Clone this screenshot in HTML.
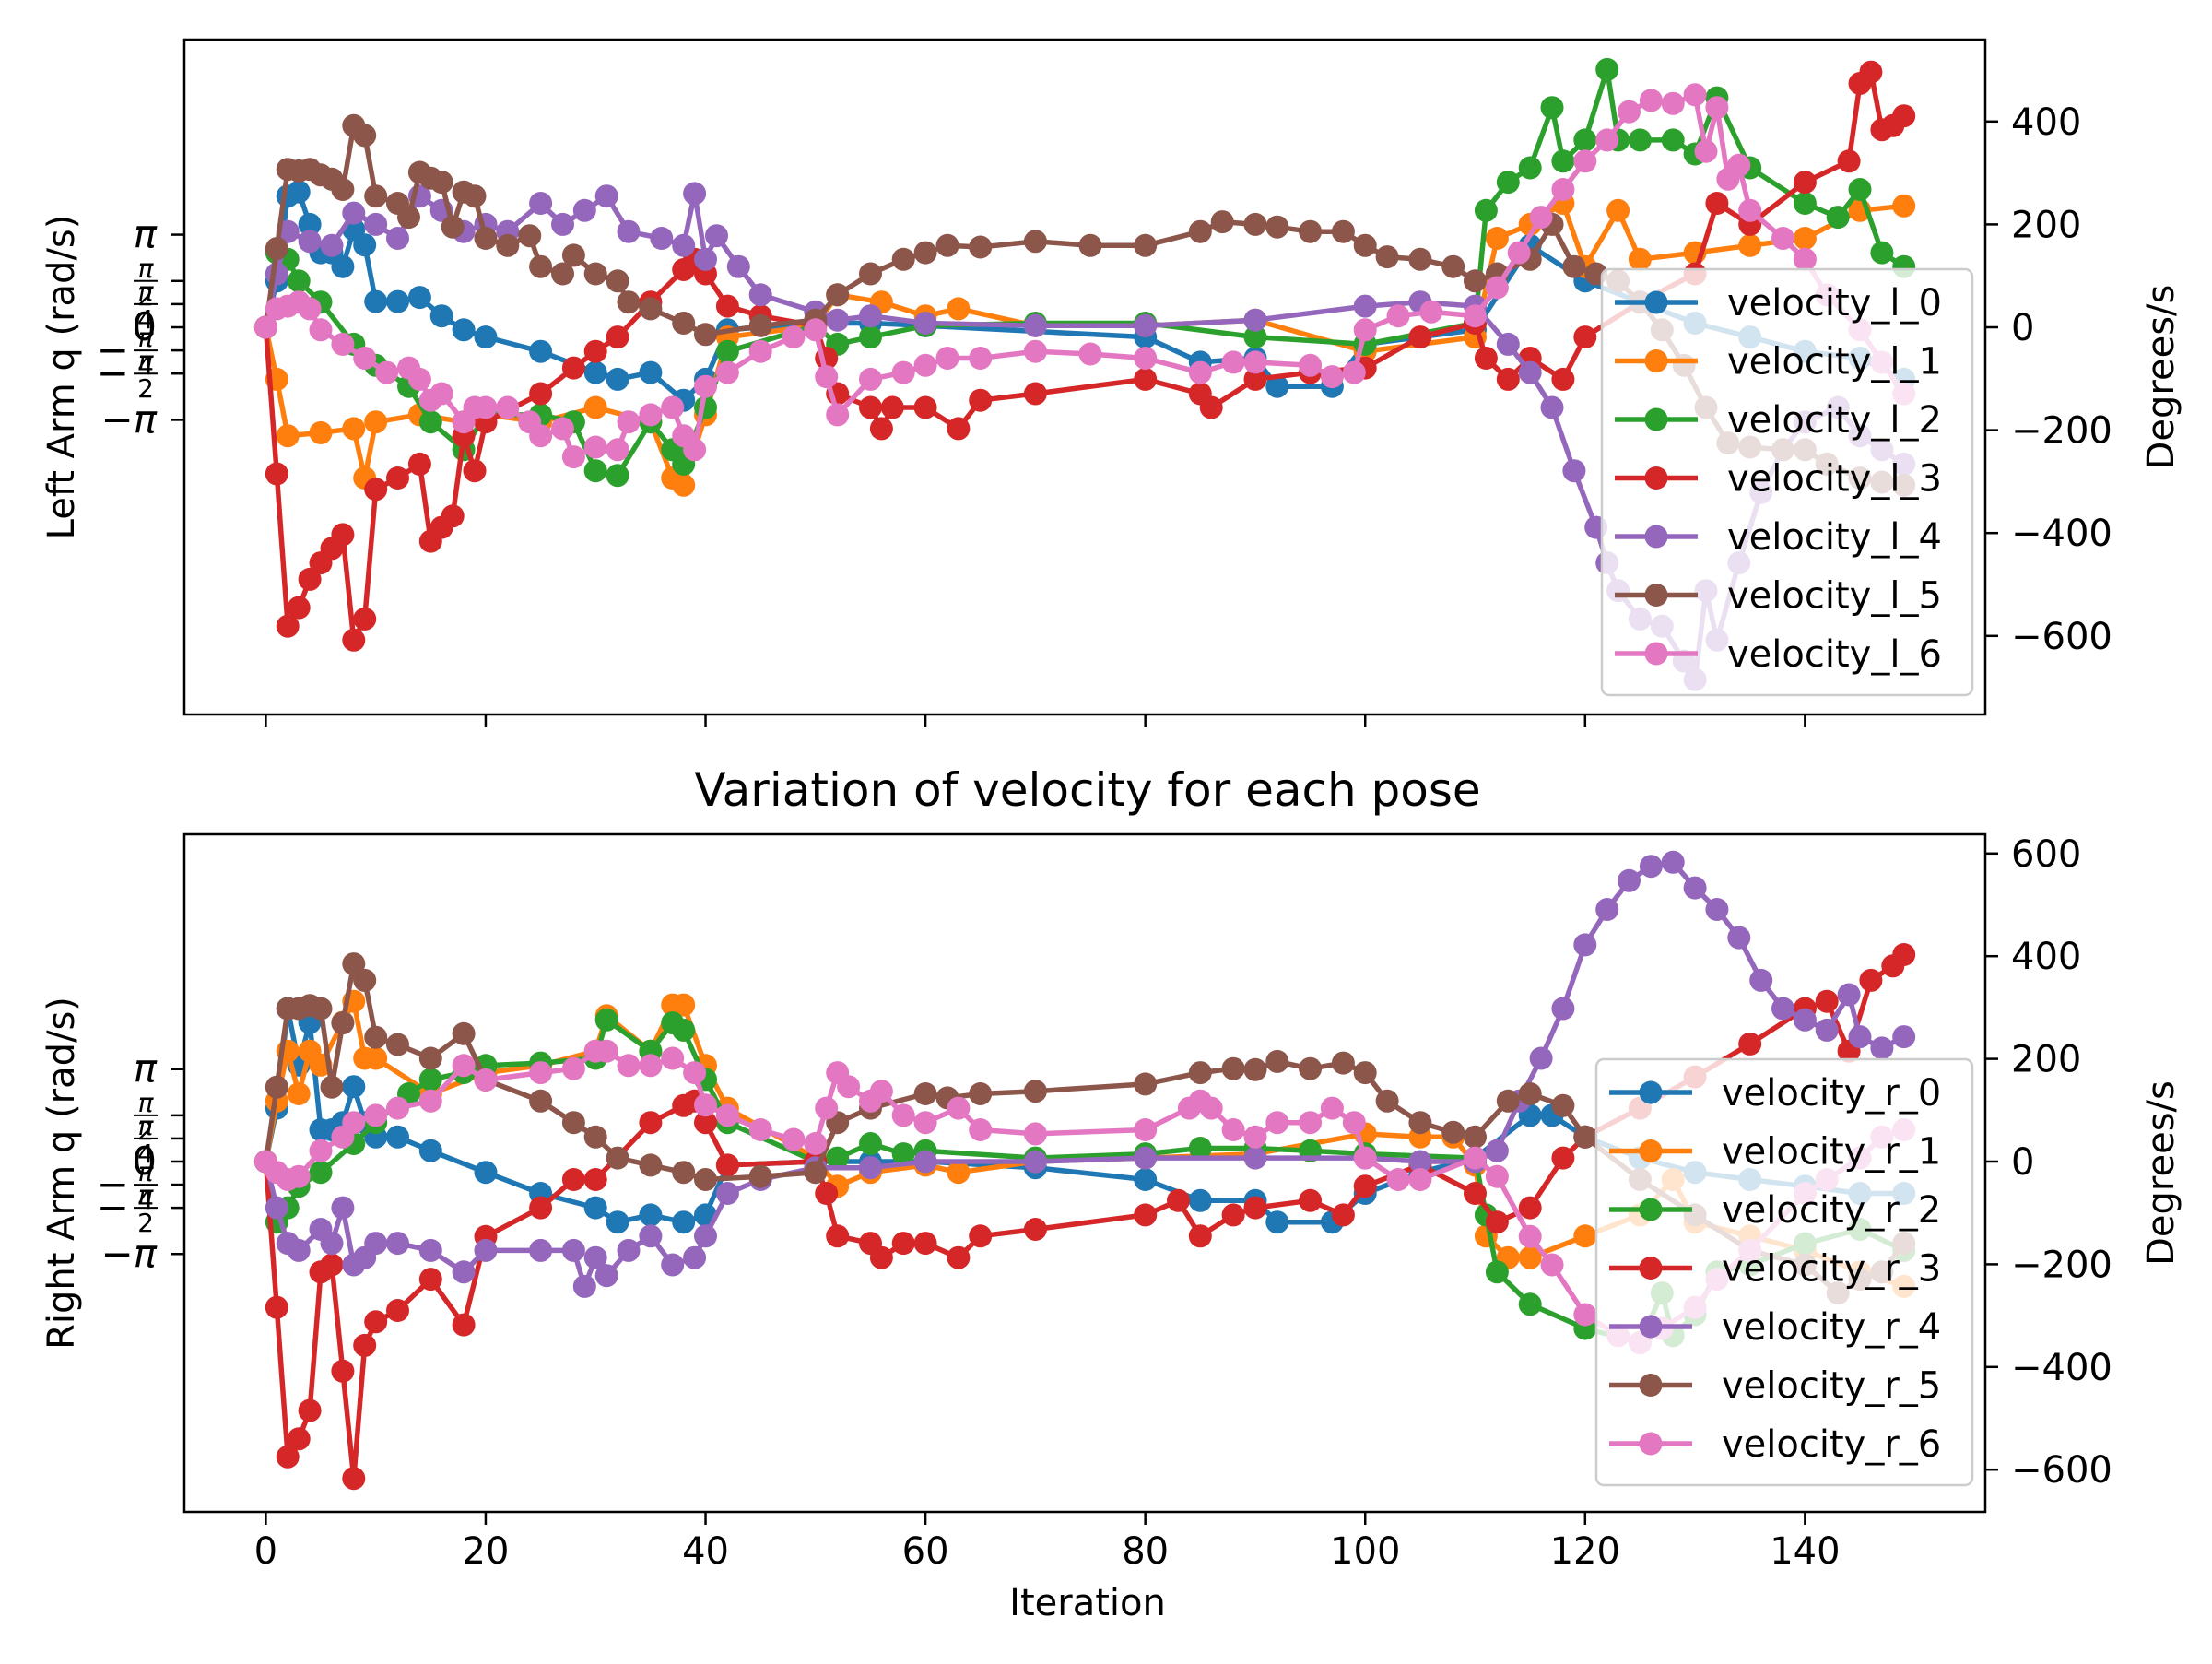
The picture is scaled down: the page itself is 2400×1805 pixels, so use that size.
<!DOCTYPE html>
<html><head><meta charset="utf-8">
<style>
html,body{margin:0;padding:0;background:#fff;}
svg text{font-family:"DejaVu Sans","Liberation Sans",sans-serif;fill:#000;}
</style></head>
<body>
<svg id="fig" width="2400" height="1800" viewBox="0 0 2400 1800" xmlns="http://www.w3.org/2000/svg">
<rect width="2400" height="1800" fill="#fff"/>
</svg>
<script>
// ---------- data (degrees/s), [iteration, value] ----------
const velocity_l_0=[[0,0],[1,90],[2,255],[3,263],[4,200],[5,145],[6,145],[7,118],[8,190],[9,160],[10,50],[12,50],[14,58],[16,22],[18,-5],[20,-19],[25,-47],[30,-88],[32,-101],[35,-88],[38,-142],[40,-101],[42,-5],[50,8],[55,8],[60,3],[80,-19],[85,-68],[90,-60],[92,-115],[97,-115],[100,-33],[110,-5],[115,159],[120,90],[125,49],[130,8],[135,-19],[140,-47],[145,-60],[149,-101]];
const velocity_l_1=[[0,0],[1,-101],[2,-211],[5,-205],[8,-197],[9,-293],[10,-184],[14,-170],[18,-184],[20,-170],[25,-184],[30,-156],[35,-184],[37,-293],[38,-307],[40,-170],[42,-19],[50,3],[52,63],[56,49],[60,22],[63,36],[70,3],[80,3],[90,14],[100,-47],[110,-19],[112,173],[115,200],[118,241],[120,118],[123,227],[125,132],[130,145],[135,159],[140,173],[145,227],[149,236]];
const velocity_l_2=[[0,0],[1,145],[2,132],[3,90],[5,49],[8,-33],[10,-74],[13,-115],[15,-184],[18,-238],[20,-170],[25,-170],[28,-184],[30,-279],[32,-288],[35,-184],[37,-238],[38,-266],[40,-156],[42,-47],[50,3],[52,-33],[55,-19],[60,3],[70,8],[80,8],[90,-19],[100,-33],[110,8],[111,227],[113,282],[115,310],[117,427],[118,323],[120,364],[122,501],[123,364],[125,364],[128,364],[130,337],[132,446],[135,310],[140,241],[143,214],[145,268],[147,145],[149,118]];
const velocity_l_3=[[0,0],[1,-285],[2,-581],[3,-545],[4,-490],[5,-458],[6,-430],[7,-403],[8,-608],[9,-567],[10,-315],[12,-293],[14,-266],[15,-416],[16,-389],[17,-367],[18,-211],[19,-279],[20,-184],[25,-129],[28,-79],[30,-47],[32,-19],[35,49],[38,112],[39,132],[40,104],[42,41],[45,22],[50,3],[51,-60],[52,-129],[55,-156],[56,-197],[57,-156],[60,-156],[63,-197],[65,-142],[70,-129],[80,-101],[85,-129],[86,-156],[90,-101],[95,-88],[100,-79],[105,-19],[110,8],[111,-60],[113,-101],[115,-60],[118,-101],[120,-19],[125,49],[130,104],[132,241],[135,200],[140,282],[144,323],[145,474],[146,496],[147,384],[148,392],[149,411]];
const velocity_l_4=[[0,0],[1,104],[2,186],[4,167],[6,159],[8,222],[10,200],[12,173],[14,255],[16,227],[18,186],[20,200],[22,186],[25,241],[27,200],[29,227],[31,255],[33,186],[36,173],[38,159],[39,260],[40,132],[41,178],[43,118],[45,63],[50,30],[52,14],[55,22],[60,8],[70,3],[80,3],[90,14],[100,41],[105,49],[110,41],[113,-33],[115,-88],[117,-156],[119,-279],[121,-389],[122,-458],[123,-512],[125,-567],[127,-581],[129,-649],[130,-685],[131,-512],[132,-608],[134,-458],[136,-321],[138,-238],[140,-184],[143,-156],[145,-211],[147,-238],[149,-266]];
const velocity_l_5=[[0,0],[1,153],[2,307],[3,304],[4,307],[5,296],[6,288],[7,268],[8,392],[9,373],[10,255],[12,241],[13,214],[14,301],[15,290],[16,282],[17,195],[18,263],[19,255],[20,173],[22,159],[24,178],[25,118],[27,104],[28,140],[30,104],[32,90],[33,49],[35,36],[38,8],[40,-14],[45,3],[50,14],[52,63],[55,104],[58,132],[60,145],[62,159],[65,156],[70,167],[75,159],[80,159],[85,186],[87,205],[90,200],[92,195],[95,186],[98,186],[100,159],[102,137],[105,132],[108,118],[110,90],[112,104],[115,132],[117,200],[119,118],[121,104],[123,90],[125,49],[127,-5],[129,-74],[131,-156],[133,-225],[135,-233],[138,-238],[140,-238],[142,-266],[145,-293],[147,-301],[149,-307]];
const velocity_l_6=[[0,0],[1,36],[2,41],[3,49],[4,36],[5,-5],[7,-33],[9,-60],[11,-88],[13,-79],[14,-101],[15,-142],[16,-129],[18,-184],[19,-156],[20,-156],[22,-156],[24,-184],[25,-211],[27,-197],[28,-252],[30,-233],[32,-238],[33,-184],[35,-170],[37,-156],[38,-211],[39,-238],[40,-115],[42,-88],[45,-47],[48,-19],[50,-5],[51,-96],[52,-170],[55,-101],[58,-88],[60,-74],[62,-60],[65,-60],[70,-47],[75,-52],[80,-60],[85,-88],[88,-68],[90,-68],[95,-74],[97,-96],[99,-88],[100,-5],[103,22],[106,30],[110,22],[112,77],[114,145],[116,214],[118,268],[120,323],[122,364],[124,419],[126,441],[128,435],[130,452],[131,342],[132,427],[133,288],[134,315],[135,227],[138,173],[140,132],[142,63],[145,-5],[147,-68],[149,-129]];

const velocity_r_0=[[0,0],[1,104],[2,298],[3,188],[4,271],[5,62],[6,62],[7,76],[8,146],[9,76],[10,48],[12,48],[15,21],[20,-21],[25,-62],[30,-90],[32,-118],[35,-104],[38,-118],[40,-104],[42,-7],[50,0],[55,0],[60,0],[70,-12],[80,-35],[85,-76],[90,-76],[92,-118],[97,-118],[100,-62],[105,-21],[110,7],[115,90],[117,90],[120,48],[125,7],[130,-21],[135,-35],[140,-48],[145,-62],[149,-62]];
const velocity_r_1=[[0,0],[1,118],[2,215],[3,132],[4,215],[5,188],[7,271],[8,312],[9,201],[10,201],[15,132],[20,173],[25,187],[30,215],[31,284],[35,215],[37,305],[38,305],[40,187],[42,104],[50,7],[52,-48],[55,-21],[60,-7],[63,-21],[70,0],[80,7],[90,15],[100,54],[105,48],[108,48],[110,-7],[111,-145],[113,-187],[115,-187],[120,-145],[125,-104],[128,-35],[130,-118],[135,-145],[140,-173],[145,-215],[149,-243]];
const velocity_r_2=[[0,0],[1,-118],[2,-90],[3,-48],[5,-21],[8,35],[10,76],[13,132],[15,160],[18,173],[20,187],[25,192],[30,201],[31,276],[35,215],[37,270],[38,256],[40,160],[42,76],[50,0],[52,7],[55,35],[58,15],[60,21],[70,7],[80,15],[85,26],[90,26],[95,21],[100,15],[110,7],[111,-104],[112,-215],[115,-278],[120,-325],[125,-353],[127,-256],[128,-339],[130,-298],[132,-215],[135,-201],[140,-160],[145,-132],[149,-173]];
const velocity_r_3=[[0,0],[1,-284],[2,-575],[3,-540],[4,-485],[5,-215],[6,-201],[7,-408],[8,-617],[9,-358],[10,-312],[12,-290],[15,-229],[18,-318],[20,-146],[25,-90],[28,-35],[30,-35],[35,76],[38,109],[39,118],[40,76],[42,-7],[50,0],[51,-62],[52,-145],[55,-159],[56,-187],[58,-159],[60,-159],[63,-187],[65,-145],[70,-132],[80,-104],[83,-76],[85,-145],[88,-104],[90,-90],[95,-76],[98,-104],[100,-48],[105,-7],[110,-62],[112,-118],[115,-90],[118,7],[120,48],[125,104],[130,165],[135,229],[140,298],[142,312],[144,215],[146,353],[148,381],[149,403]];
const velocity_r_4=[[0,0],[1,-90],[2,-159],[3,-173],[5,-132],[6,-159],[7,-90],[8,-201],[9,-187],[10,-159],[12,-159],[15,-173],[18,-215],[20,-173],[25,-173],[28,-173],[29,-243],[30,-187],[31,-222],[33,-173],[35,-145],[37,-201],[39,-187],[40,-145],[42,-62],[45,-35],[50,-12],[55,-12],[60,0],[70,0],[80,7],[90,7],[100,7],[105,0],[110,0],[112,21],[114,118],[116,201],[118,298],[120,422],[122,491],[124,547],[126,575],[128,583],[130,533],[132,491],[134,436],[136,353],[138,298],[140,276],[142,256],[144,325],[145,243],[147,221],[149,243]];
const velocity_r_5=[[0,0],[1,145],[2,298],[3,298],[4,304],[5,298],[6,145],[7,270],[8,385],[9,353],[10,242],[12,228],[15,201],[18,249],[20,159],[25,118],[28,76],[30,48],[32,7],[35,-7],[38,-21],[40,-35],[45,-29],[50,-21],[52,76],[55,104],[60,132],[62,124],[65,132],[70,137],[80,151],[85,173],[88,181],[90,179],[92,195],[95,181],[98,192],[100,173],[102,118],[105,76],[108,57],[110,48],[113,118],[115,132],[118,109],[120,48],[125,-35],[130,-104],[135,-173],[140,-201],[143,-256],[145,-229],[147,-215],[149,-159]];
const velocity_r_6=[[0,0],[1,-21],[2,-35],[3,-29],[5,21],[7,48],[8,76],[10,90],[12,104],[15,118],[18,187],[20,159],[25,173],[28,181],[30,215],[31,215],[33,187],[35,187],[37,201],[39,173],[40,110],[42,90],[45,62],[48,43],[50,35],[51,104],[52,173],[53,146],[55,118],[56,137],[58,90],[60,76],[63,104],[65,62],[70,54],[80,62],[84,104],[85,118],[86,104],[88,62],[90,48],[92,76],[95,76],[97,104],[99,76],[100,7],[103,-35],[105,-35],[110,7],[112,-29],[115,-146],[117,-201],[120,-298],[123,-339],[125,-353],[127,-325],[130,-284],[132,-229],[135,-173],[140,-62],[142,-35],[145,7],[147,48],[149,62]];

const seriesLeft=[velocity_l_0,velocity_l_1,velocity_l_2,velocity_l_3,velocity_l_4,velocity_l_5,velocity_l_6];
const seriesRight=[velocity_r_0,velocity_r_1,velocity_r_2,velocity_r_3,velocity_r_4,velocity_r_5,velocity_r_6];
const namesLeft=["velocity_l_0","velocity_l_1","velocity_l_2","velocity_l_3","velocity_l_4","velocity_l_5","velocity_l_6"];
const namesRight=["velocity_r_0","velocity_r_1","velocity_r_2","velocity_r_3","velocity_r_4","velocity_r_5","velocity_r_6"];
const xTicks=[0,20,40,60,80,100,120,140];
const yTicksTop=[-600,-400,-200,0,200,400];
const yTicksBottom=[-600,-400,-200,0,200,400,600];
const radTicks=[180,90,45,0,-45,-90,-180];
const radLabels=[["π"],["π","2"],["π","4"],["0"],["−","π","4"],["−","π","2"],["−π"]];
const colors=["#1f77b4","#ff7f0e","#2ca02c","#d62728","#9467bd","#8c564b","#e377c2"];

const NS="http://www.w3.org/2000/svg";
const svg=document.getElementById('fig');
function mk(tag,attrs,parent){const e=document.createElementNS(NS,tag);for(const k in attrs)e.setAttribute(k,attrs[k]);(parent||svg).appendChild(e);return e;}

const X0=200,X1=2154,XMIN=-7.41,XMAX=156.4;
function xs(v){return X0+(v-XMIN)/(XMAX-XMIN)*(X1-X0);}

function drawPanel(cfg){
  const {top,bottom,ymin,ymax,series,names,ticks,leftLabel,legendTop,legendW,prefix}=cfg;
  const ys=v=>bottom-(v-ymin)/(ymax-ymin)*(bottom-top);
  const g=mk('g',{});
  
  
  const clipId=prefix+'clip';
  const cp=mk('clipPath',{id:clipId},g);mk('rect',{x:X0,y:top,width:X1-X0,height:bottom-top},cp);
  const plot=mk('g',{'clip-path':'url(#'+clipId+')'},g);
  series.forEach((s,i)=>{
    const sg=mk('g',{},plot);
    
    
    const d=s.map((p,j)=>(j?'L':'M')+xs(p[0]).toFixed(1)+' '+ys(p[1]).toFixed(1)).join(' ');
    mk('path',{d:d,fill:'none',stroke:colors[i],'stroke-width':5.5,'stroke-linejoin':'round'},sg);
    s.forEach(p=>{mk('circle',{cx:xs(p[0]).toFixed(1),cy:ys(p[1]).toFixed(1),r:12.5,fill:colors[i]},sg);});
  });
  const fr=mk('rect',{x:X0,y:top,width:X1-X0,height:bottom-top,fill:'none',stroke:'#000','stroke-width':2.5},g);
  
  
  xTicks.forEach(t=>{
    mk('line',{x1:xs(t),x2:xs(t),y1:bottom,y2:bottom+14,stroke:'#000','stroke-width':2.5},g);
    if(cfg.xlabels){const tx=mk('text',{x:xs(t),y:bottom+56,'font-size':40,'text-anchor':'middle'},g);tx.textContent=t;
      }
  });
  ticks.forEach(t=>{
    const y=ys(t);
    mk('line',{x1:X1,x2:X1+14,y1:y,y2:y,stroke:'#000','stroke-width':2.5},g);
    const tx=mk('text',{x:X1+28,y:y+14,'font-size':40},g);tx.textContent=(t<0?'−'+(-t):t);
    
  });
  radTicks.forEach((t,i)=>{
    const y=ys(t);
    mk('line',{x1:X0-14,x2:X0,y1:y,y2:y,stroke:'#000','stroke-width':2.5},g);
    const L=radLabels[i];
    const lab=mk('g',{},g);
    
    
    if(L.length===1){
      const tx=mk('text',{x:170,y:y+14,'font-size':42,'text-anchor':'end','font-style':L[0]==='0'?'normal':'italic'},lab);tx.textContent=L[0];
    } else {
      let nx=158;
      if(L.length===3){const m=mk('text',{x:140,y:y+14,'font-size':42,'text-anchor':'end'},lab);m.textContent=L[0];}
      const n=L[L.length-2],dn=L[L.length-1];
      const t1=mk('text',{x:nx,y:y-4,'font-size':28,'text-anchor':'middle','font-style':'italic'},lab);t1.textContent=n;
      mk('line',{x1:nx-13,x2:nx+13,y1:y,y2:y,stroke:'#000','stroke-width':2},lab);
      const t2=mk('text',{x:nx,y:y+26,'font-size':28,'text-anchor':'middle'},lab);t2.textContent=dn;
    }
  });
  const cy=(top+bottom)/2;
  const yl=mk('text',{x:0,y:0,'font-size':40,'text-anchor':'middle',transform:`translate(80 ${cy}) rotate(-90)`},g);yl.textContent=leftLabel;
  
  const yr=mk('text',{x:0,y:0,'font-size':40,'text-anchor':'middle',transform:`translate(2358 ${cy}) rotate(-90)`},g);yr.textContent='Degrees/s';
  
  const lg=mk('g',{},g);
  
  
  const lx=2140-legendW;
  mk('rect',{x:lx,y:legendTop,width:legendW,height:462,rx:8,fill:'#fff','fill-opacity':0.8,stroke:'#cccccc','stroke-width':2.5},lg);
  names.forEach((n,i)=>{
    const y=legendTop+36+i*63.5;
    const e=mk('g',{},lg);
    
    
    mk('line',{x1:lx+14,x2:lx+104,y1:y,y2:y,stroke:colors[i],'stroke-width':5.5},e);
    mk('circle',{cx:lx+59,cy:y,r:12.5,fill:colors[i]},e);
    const t=mk('text',{x:lx+136,y:y+14,'font-size':40},e);t.textContent=n;
  });
}

drawPanel({top:43,bottom:775,ymin:(355-775)/0.558,ymax:(355-43)/0.558,series:seriesLeft,names:namesLeft,ticks:yTicksTop,leftLabel:'Left Arm q (rad/s)',legendTop:292,legendW:402,prefix:'left-arm',xlabels:false});
drawPanel({top:905,bottom:1640,ymin:(1260-1640)/0.557,ymax:(1260-905)/0.557,series:seriesRight,names:namesRight,ticks:yTicksBottom,leftLabel:'Right Arm q (rad/s)',legendTop:1149,legendW:408,prefix:'right-arm',xlabels:true});

const title=mk('text',{x:1180,y:874,'font-size':50,'text-anchor':'middle'});
title.textContent='Variation of velocity for each pose';


const xl=mk('text',{x:1180,y:1752,'font-size':40,'text-anchor':'middle'});
xl.textContent='Iteration';


</script>
</body></html>
